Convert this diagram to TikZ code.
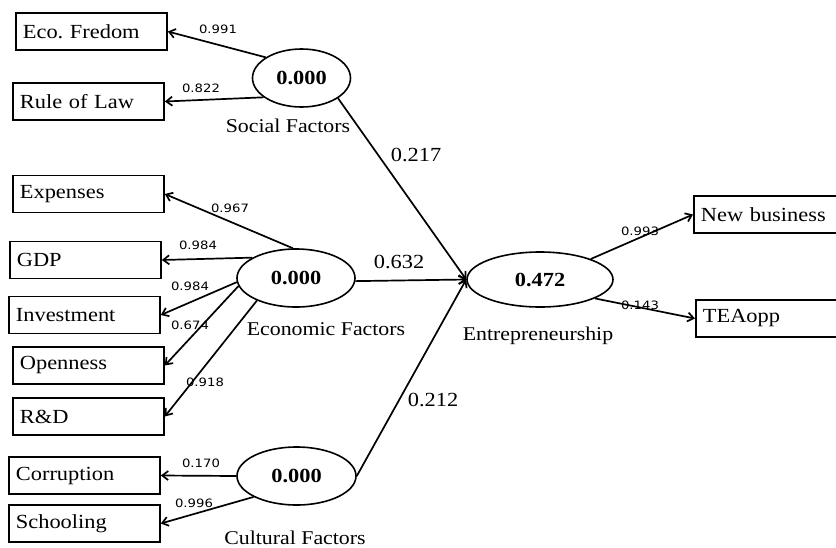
\documentclass[tikz,border=0pt]{standalone}
\usepackage{fontspec}
\setmainfont{Liberation Serif}[FakeStretch=1.12]
\newfontfamily\lblfont{DejaVu Sans}[FakeStretch=1.15]
\usetikzlibrary{arrows.meta,shapes.geometric}
\frenchspacing
\begin{document}
\begin{tikzpicture}[x=1pt,y=-1pt,
  box/.style={draw,line width=1.8pt,minimum height=37pt,anchor=west,inner xsep=7pt,inner ysep=0pt,text width=137pt,align=left,font=\fontsize{20}{24}\selectfont},
  lat/.style={ellipse,draw,line width=1.6pt,inner sep=0pt,font=\fontsize{20}{24}\selectfont\bfseries},
  ln/.style={line width=1.7pt,-{Straight Barb[length=6pt,width=9pt]}},
  lbl/.style={font=\lblfont\fontsize{11.5}{13}\selectfont,inner sep=0pt},
  plbl/.style={font=\fontsize{20}{24}\selectfont,inner sep=0pt},
  captext/.style={font=\fontsize{19.5}{24}\selectfont,inner sep=0pt}
]
\useasboundingbox (0,0) rectangle (836,547);
\clip (0,0) rectangle (836,547);
% latent variables
\node[lat,minimum width=98pt,minimum height=58pt] (lSoc) at (301.5,78) {0.000};
\node[lat,minimum width=118pt,minimum height=58pt] (lEco) at (296,278) {0.000};
\node[lat,minimum width=119pt,minimum height=58pt] (lCul) at (296.5,476) {0.000};
\node[lat,minimum width=146pt,minimum height=55pt] (lEnt) at (540,279.5) {0.472};
% indicators
\node[box] (bEco) at (15,31.5) {Eco.\ Fredom};
\node[box] (bRule) at (12,101.5) {Rule of Law};
\node[box] (bExp) at (12,194) {Expenses};
\node[box] (bGdp) at (9,260) {GDP};
\node[box] (bInv) at (8,315) {Investment};
\node[box] (bOpen) at (12,365.5) {Openness};
\node[box] (bRD) at (12,416.5) {R\&D};
\node[box] (bCorr) at (8,475.5) {Corruption};
\node[box] (bSch) at (8,523.5) {Schooling};
\node[box] (bNew) at (693,214.5) {New business};
\node[box] (bTea) at (695,318.5) {TEAopp};
% captions
\node[captext] (cSoc) at (288,126) {Social Factors};
\node[captext] (cEco) at (326,329) {Economic Factors};
\node[captext] (cCul) at (295,537.5) {Cultural Factors};
\node[captext] (cEnt) at (538,336) {Entrepreneurship};
% connectors
\draw[ln] (lSoc.150) -- (bEco.east);
\draw[ln] (lSoc.207) -- (bRule.east);
\draw[ln] (lSoc.331) -- (lEnt.west);
\draw[ln] (lEco.96) -- (bExp.east);
\draw[ln] (lEco.155) -- (bGdp.east);
\draw[ln] (lEco.184) -- (bInv.east);
\draw[ln] (lEco.188) -- (bOpen.east);
\draw[ln] (lEco.210) -- (bRD.east);
\draw[ln] (lEco.357) -- (lEnt.west);
\draw[ln] (lCul.180) -- (bCorr.east);
\draw[ln] (lCul.206) -- (bSch.east);
\draw[ln] (lCul.east) -- (lEnt.west);
\draw[ln] (lEnt.22) -- (bNew.west);
\draw[ln] (lEnt.341) -- (bTea.west);
% coefficients
\node[lbl] (k1) at (218,29) {0.991};
\node[lbl] (k2) at (201,88) {0.822};
\node[lbl] (k3) at (230,208) {0.967};
\node[lbl] (k4) at (198,245) {0.984};
\node[lbl] (k5) at (190,286) {0.984};
\node[lbl] (k6) at (190,325) {0.674};
\node[lbl] (k7) at (205,382) {0.918};
\node[lbl] (k8) at (201,463) {0.170};
\node[lbl] (k9) at (194,503) {0.996};
\node[lbl] (k10) at (640,231) {0.993};
\node[lbl] (k11) at (640,305) {0.143};
\node[plbl] (p1) at (416,155) {0.217};
\node[plbl] (p2) at (399,262) {0.632};
\node[plbl] (p3) at (433,400) {0.212};
\end{tikzpicture}
\end{document}
